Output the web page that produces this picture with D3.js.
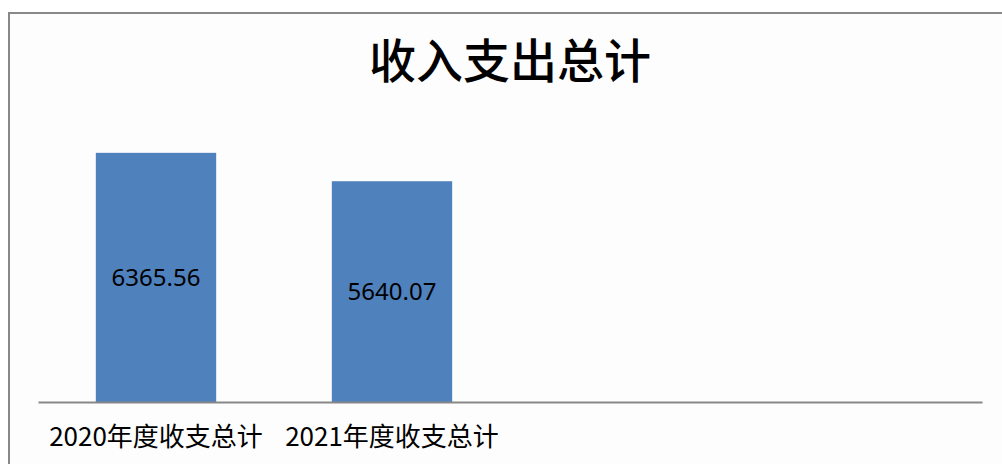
<!DOCTYPE html>
<html>
<head>
<meta charset="utf-8">
<script src="https://cdn.jsdelivr.net/npm/d3@7"></script>
<style>
  body { margin: 0; background: #fff; }
</style>
</head>
<body>
<div id="chart"></div>
<script>
// Chart data
var categories = ["2020年度收支总计", "2021年度收支总计", "", " "];
var values = [6365.56, 5640.07, null, null];
var yMax = 7000;

var svgWidth = 1002;
var svgHeight = 464;

// plot area, picked to line up with the reference
var plot = { left: 38, right: 982, top: 128, bottom: 402 };

var svg = d3.select("#chart")
            .append("svg")
            .attr("width", svgWidth)
            .attr("height", svgHeight);

// outer frame (only top and left show in the picture)
svg.append("rect")
   .attr("x", 9)
   .attr("y", 13)
   .attr("width", 1020)
   .attr("height", 480)
   .attr("fill", "#fdfdfd")
   .attr("stroke", "#888")
   .attr("stroke-width", 2);

// Title
svg.append("text")
   .attr("x", 510)
   .attr("y", 78)
   .attr("text-anchor", "middle")
   .attr("font-family", "'Noto Sans CJK SC'")
   .attr("font-weight", 500)
   .attr("font-size", 47)
   .attr("fill", "#000")
   .text("收入支出总计");

var xScale = d3.scaleBand()
               .domain(categories)
               .range([plot.left, plot.right])
               .paddingInner(0.49)
               .paddingOuter(0.245);

var yScale = d3.scaleLinear()
               .domain([0, yMax])
               .range([plot.bottom, plot.top]);

var data = categories.map((c, i) => ({ cat: c, value: values[i] }))
                     .filter(d => d.value != null);

// Bars
svg.selectAll(".bar")
   .data(data)
   .enter()
   .append("rect")
   .classed("bar", true)
   .attr("x", d => xScale(d.cat))
   .attr("y", d => yScale(d.value))
   .attr("width", xScale.bandwidth())
   .attr("height", d => yScale(0) - yScale(d.value))
   .attr("fill", "#4F81BD");

// Value labels in the middle of each bar
svg.selectAll(".val")
   .data(data)
   .enter()
   .append("text")
   .classed("val", true)
   .attr("x", d => xScale(d.cat) + xScale.bandwidth() / 2)
   .attr("y", d => (yScale(d.value) + yScale(0)) / 2)
   .attr("dy", "0.36em")
   .attr("text-anchor", "middle")
   .attr("font-family", "'Noto Sans', sans-serif")
   .attr("font-size", 24)
   .attr("fill", "#000")
   .text(d => d.value.toFixed(2));

// X axis (baseline only, with category labels)
var bottomAxis = d3.axisBottom(xScale).tickSize(0).tickPadding(0);
var xAxisGroup = svg.append("g")
                    .attr("transform", `translate(0, ${plot.bottom})`)
                    .call(bottomAxis);
xAxisGroup.select(".domain")
          .attr("stroke", "#888")
          .attr("stroke-width", 2);
xAxisGroup.selectAll("text")
          .attr("y", 44)
          .attr("dy", 0)
          .attr("font-family", "'Noto Sans CJK SC'")
          .attr("font-size", 26)
          .attr("fill", "#000");
</script>
</body>
</html>
